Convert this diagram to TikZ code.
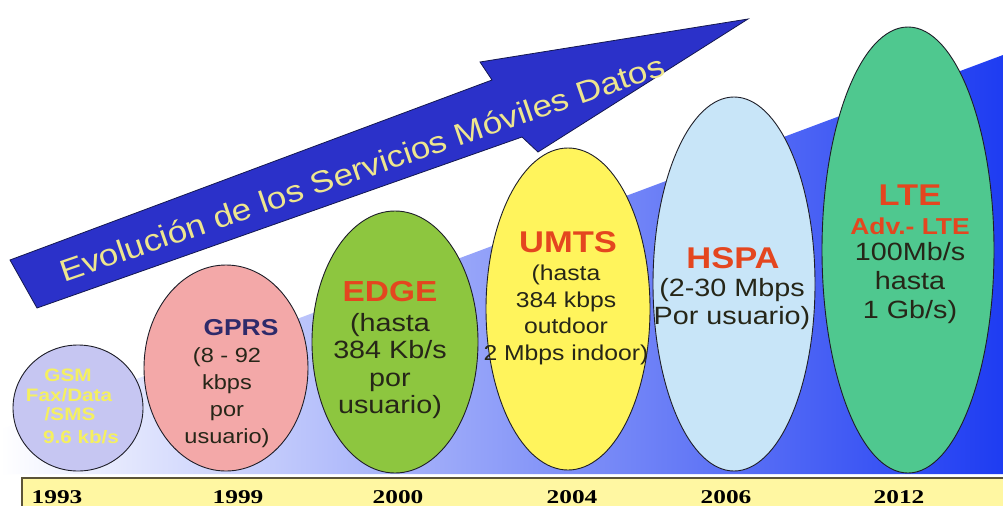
\documentclass[tikz,border=0pt]{standalone}
\usepackage{fontspec}
\usetikzlibrary{shapes.geometric}
\newfontfamily\lsans[FakeStretch=1.15]{Liberation Sans}
\newfontfamily\lserif[FakeStretch=1.3]{Liberation Serif}
\definecolor{gsmfill}{HTML}{C6C6F2}
\definecolor{gprsfill}{HTML}{F3A8A8}
\definecolor{edgefill}{HTML}{8DC63F}
\definecolor{umtsfill}{HTML}{FFF45C}
\definecolor{hspafill}{HTML}{C8E5F8}
\definecolor{ltefill}{HTML}{4FC88F}
\definecolor{arrowfill}{HTML}{2B31C9}
\definecolor{arrowline}{HTML}{141850}
\definecolor{arrowtext}{HTML}{EEE68E}
\definecolor{titlered}{HTML}{E4461F}
\definecolor{gprsnavy}{HTML}{2E2A6A}
\definecolor{bodytext}{HTML}{262618}
\definecolor{gsmtext}{HTML}{F5F060}
\definecolor{baryellow}{HTML}{FFF7A2}
\definecolor{barline}{HTML}{5C5438}
\definecolor{ovalline}{HTML}{1E1E28}
\definecolor{wedgemid}{HTML}{A8AEEE}
\definecolor{wedgeright}{HTML}{1E3CF2}
\begin{document}
\begin{tikzpicture}[x=1pt,y=-1pt,
  oval/.style={ellipse, draw=ovalline, line width=0.9pt, inner sep=0pt},
  ttl/.style={font=\lsans\bfseries\fontsize{30}{30}\selectfont, text=titlered, inner sep=0pt},
  body/.style={font=\lsans\fontsize{25}{28}\selectfont, text=bodytext, align=center, inner sep=0pt},
  gsmtxt/.style={font=\lsans\bfseries\fontsize{18}{18}\selectfont, text=gsmtext, inner sep=0pt},
  yearlbl/.style={font=\lserif\bfseries\fontsize{19.5}{19.5}\selectfont, text=black, inner sep=0pt}]
\useasboundingbox (0,0) rectangle (1003,506);
\fill[white] (0,0) rectangle (1003,506);
% rising blue wedge
\shade[left color=white, middle color=wedgemid, right color=wedgeright]
  (0,430) -- (1003,55) -- (1003,474) -- (0,474) -- cycle;
% year bar
\fill[baryellow] (22,478) rectangle (1003,506);
\draw[barline, line width=1.8pt] (1003,478) -- (22,478) -- (22,506);
% big arrow
\filldraw[fill=arrowfill, draw=arrowline, line width=0.8pt, line join=miter]
  (10,260) -- (492,80) -- (480,62) -- (748,19) -- (538,152) -- (522,137) -- (37,308) -- cycle;
\node[font=\lsans\fontsize{30.5}{30.5}\selectfont, text=arrowtext, rotate=19, inner sep=0pt]
  (arrowtitle) at (362,168) {Evolución de los Servicios Móviles Datos};
% ellipses
\node[oval, fill=gsmfill, minimum width=130, minimum height=126] (gsm) at (78,408) {};
\node[oval, fill=gprsfill, minimum width=164, minimum height=206] (gprs) at (226,368) {};
\node[oval, fill=edgefill, minimum width=166, minimum height=262] (edge) at (395,342) {};
\node[oval, fill=umtsfill, minimum width=164, minimum height=322] (umts) at (568,309) {};
\node[oval, fill=hspafill, minimum width=162, minimum height=374] (hspa) at (734,284) {};
\node[oval, fill=ltefill, minimum width=172, minimum height=446] (lte) at (908,250) {};
% GSM text
\node[gsmtxt] (gsmT) at (68,375) {GSM};
\node[gsmtxt] (gsmA) at (69,395) {Fax/Data};
\node[gsmtxt] (gsmB) at (70,414) {/SMS};
\node[gsmtxt] (gsmC) at (81,437) {9.6 kb/s};
% GPRS text
\node[ttl, text=gprsnavy, font=\lsans\bfseries\fontsize{23}{23}\selectfont] (gprsT) at (241,328) {GPRS};
\node[body, font=\lsans\fontsize{20.5}{27}\selectfont] (gprsB) at (227,398) {(8 - 92\\kbps\\por\\usuario)};
% EDGE text
\node[ttl, font=\lsans\bfseries\fontsize{29}{29}\selectfont] (edgeT) at (390,292) {EDGE};
\node[body, font=\lsans\fontsize{25}{27.5}\selectfont] (edgeB) at (390,366) {(hasta\\384 Kb/s\\por\\usuario)};
% UMTS text
\node[ttl] (umtsT) at (568,242) {UMTS};
\node[body, font=\lsans\fontsize{21.5}{26.7}\selectfont] (umtsB) at (566,315) {(hasta\\384 kbps\\outdoor\\2 Mbps indoor)};
% HSPA text
\node[ttl] (hspaT) at (733,258) {HSPA};
\node[body] (hspaB) at (732,304) {(2-30 Mbps\\Por usuario)};
% LTE text
\node[ttl] (lteT) at (910,195) {LTE};
\node[ttl, font=\lsans\bfseries\fontsize{23}{23}\selectfont] (lteA) at (910,226) {Adv.- LTE};
\node[body, font=\lsans\fontsize{25}{29}\selectfont] (lteB) at (910,283) {100Mb/s\\hasta\\1 Gb/s)};
% years
\node[yearlbl] (y1993) at (57,497) {1993};
\node[yearlbl] (y1999) at (238,497) {1999};
\node[yearlbl] (y2000) at (398,497) {2000};
\node[yearlbl] (y2004) at (572,497) {2004};
\node[yearlbl] (y2006) at (726,497) {2006};
\node[yearlbl] (y2012) at (899,497) {2012};
\end{tikzpicture}
\end{document}
